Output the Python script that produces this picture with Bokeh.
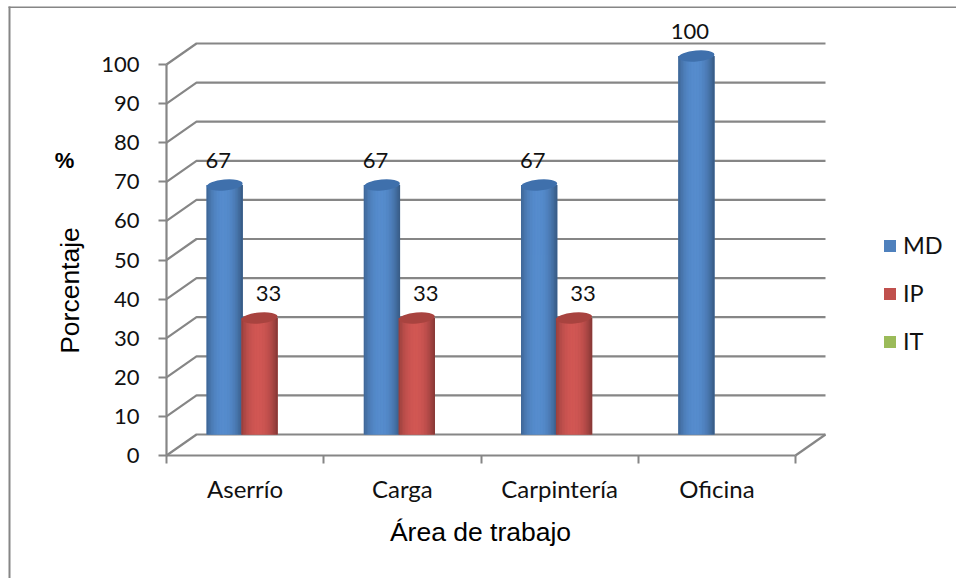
import math

from bokeh.core.properties import value
from bokeh.embed import file_html
from bokeh.models import (BoxAnnotation, ColumnDataSource, FixedTicker, Legend,
                          LegendItem, LinearAxis, Range1d)
from bokeh.plotting import figure
from bokeh.resources import INLINE

categories = ["Aserrío", "Carga", "Carpintería", "Oficina"]
md_values = [67, 67, 67, 100]
ip_values = [33, 33, 33, 0]
it_values = [0, 0, 0, 0]
y_ticks = list(range(0, 101, 10))

# Layout of the pseudo-3D plot box, in pixels
LEFT, BASE = 166, 455
CAT_PX, UNIT_PX = 157.25, 3.91
DEPTH_X, DEPTH_Y = 30 / CAT_PX, 21 / UNIT_PX
W, H = 956, 578

GRID = "#868686"
TICK_FONT = "Lato"
TEXT = "#111111"

p = figure(width=W, height=H, output_backend="svg", toolbar_location=None,
           x_range=Range1d(-LEFT / CAT_PX, (W - LEFT) / CAT_PX),
           y_range=Range1d(-(H - BASE) / UNIT_PX, BASE / UNIT_PX),
           min_border=0, x_axis_type=None, y_axis_type=None, outline_line_color=None,
           background_fill_color="white", border_fill_color="white")
p.grid.visible = False

# Outer rules along the top and left of the page
for box in (dict(left=8, right=10, top=6, bottom=H), dict(left=8, right=W, top=6, bottom=7.5)):
    p.add_layout(BoxAnnotation(left_units="canvas", right_units="canvas", top_units="canvas",
                               bottom_units="canvas", fill_color=GRID, fill_alpha=1,
                               line_color=None, **box))

# Side wall and back wall gridlines, plus the floor
n_cat = len(categories)
xs, ys = [], []
for v in y_ticks:
    xs.append([0, DEPTH_X, n_cat + DEPTH_X])
    ys.append([v, v + DEPTH_Y, v + DEPTH_Y])
xs.append([n_cat, n_cat + DEPTH_X])
ys.append([0, DEPTH_Y])
p.multi_line(xs, ys, line_color=GRID, line_width=2.2)

y_axis = LinearAxis(ticker=FixedTicker(ticks=y_ticks), bounds=(0, 100), fixed_location=0,
                    axis_line_color=GRID, axis_line_width=2.2,
                    major_tick_line_color=GRID, major_tick_line_width=2,
                    major_tick_out=8, major_tick_in=0, minor_tick_out=0, minor_tick_in=0,
                    major_label_standoff=19, major_label_text_font=TICK_FONT,
                    major_label_text_font_size="22px", major_label_text_color=TEXT)
p.add_layout(y_axis, "left")

x_axis = LinearAxis(ticker=FixedTicker(ticks=[i + 0.5 for i in range(n_cat)],
                                       minor_ticks=list(range(n_cat + 1))),
                    bounds=(0, n_cat), fixed_location=0, axis_line_color=GRID, axis_line_width=2.2,
                    major_tick_out=0, major_tick_in=0,
                    minor_tick_line_color=GRID, minor_tick_line_width=2, minor_tick_out=8, minor_tick_in=0,
                    major_label_overrides={i + 0.5: c for i, c in enumerate(categories)},
                    major_label_standoff=10, major_label_text_font=TICK_FONT,
                    major_label_text_font_size="24px", major_label_text_color=TEXT)
p.add_layout(x_axis, "below")

FLOOR_TOP = DEPTH_Y              # cylinders stand on the back edge of the floor
CAP_LIFT = 8.5 / UNIT_PX         # cap centre sits a little above the nominal value
BAR_W = 36 / CAT_PX
STRIPS = 24


def shade(rgb, t):
    """Cylinder shading across the bar: dark rim, bright band left of centre."""
    d = abs(t - 0.47) / 0.53
    k = 1.09 - 0.40 * d ** 2.2
    return "#%02x%02x%02x" % tuple(min(255, int(c * k)) for c in rgb)


def cylinders(vals, offset, base_hex, rgb, cap_hex, label_dx):
    keep = [i for i, v in enumerate(vals) if v > 0]
    centre = [i + offset for i in keep]
    tops = [vals[i] + CAP_LIFT for i in keep]
    flat = p.vbar(x=centre, top=tops, bottom=[FLOOR_TOP] * len(keep), width=BAR_W,
                  fill_color=base_hex, line_color=None)
    sx, st, sc = [], [], []
    strip_w = BAR_W / STRIPS
    for c, t in zip(centre, tops):
        for s in range(STRIPS):
            f = (s + 0.5) / STRIPS
            sx.append(c - BAR_W / 2 + f * BAR_W)
            st.append(t)
            sc.append(shade(rgb, f))
    p.vbar(x=sx, top=st, bottom=[FLOOR_TOP] * len(sx), width=strip_w * 1.25, fill_color=sc, line_color=None)
    # Rounded lip and cap
    p.ellipse(x=centre, y=tops, width=36, height=11, width_units="screen", height_units="screen",
              angle=0.09, fill_color=cap_hex, line_color=None)
    src = ColumnDataSource(dict(x=centre, y=[vals[i] for i in keep], t=[str(vals[i]) for i in keep]))
    p.text("x", "y", text="t", source=src, x_offset=label_dx, y_offset=-33, text_align="center",
           text_baseline="middle", text_font=value(TICK_FONT), text_font_size="22px", text_color=TEXT)
    return flat


md = cylinders(md_values, 0.37, "#4F81BD", (79, 129, 189), "#3F70AC", -6.5)
ip = cylinders(ip_values, 0.592, "#C0504D", (192, 80, 77), "#A8433F", 9)
# The third series is all zeros, so its bars have no height and only its key shows
it = p.vbar(x=[i + 0.81 for i in range(n_cat)], top=[v + FLOOR_TOP for v in it_values],
            bottom=[FLOOR_TOP] * n_cat, width=BAR_W, fill_color="#9BBB59", line_color=None)

legend = Legend(items=[LegendItem(label="MD", renderers=[md]),
                       LegendItem(label="IP", renderers=[ip]),
                       LegendItem(label="IT", renderers=[it])],
                location=(882, 223), orientation="vertical", border_line_color=None,
                background_fill_alpha=0, glyph_width=15, glyph_height=15, label_standoff=6,
                spacing=20, padding=0, margin=0,
                label_text_font=TICK_FONT, label_text_font_size="23.5px", label_text_color=TEXT)
p.add_layout(legend, "center")


def page_text(text, px, py, size, **kw):
    """Free-standing caption placed by its page position."""
    p.text([(px - LEFT) / CAT_PX], [(BASE - py) / UNIT_PX], text=[text], text_align="center",
           text_baseline="middle", text_font=value("Liberation Sans"), text_font_size=size,
           text_color="#000000", **kw)


page_text("Porcentaje", 69, 290, "26.5px", angle=math.pi / 2)
page_text("%", 64, 160, "22px", text_font_style="bold")
page_text("Área de trabajo", 480, 531, "26.5px")

open("out.html", "w").write(file_html(p, INLINE))
